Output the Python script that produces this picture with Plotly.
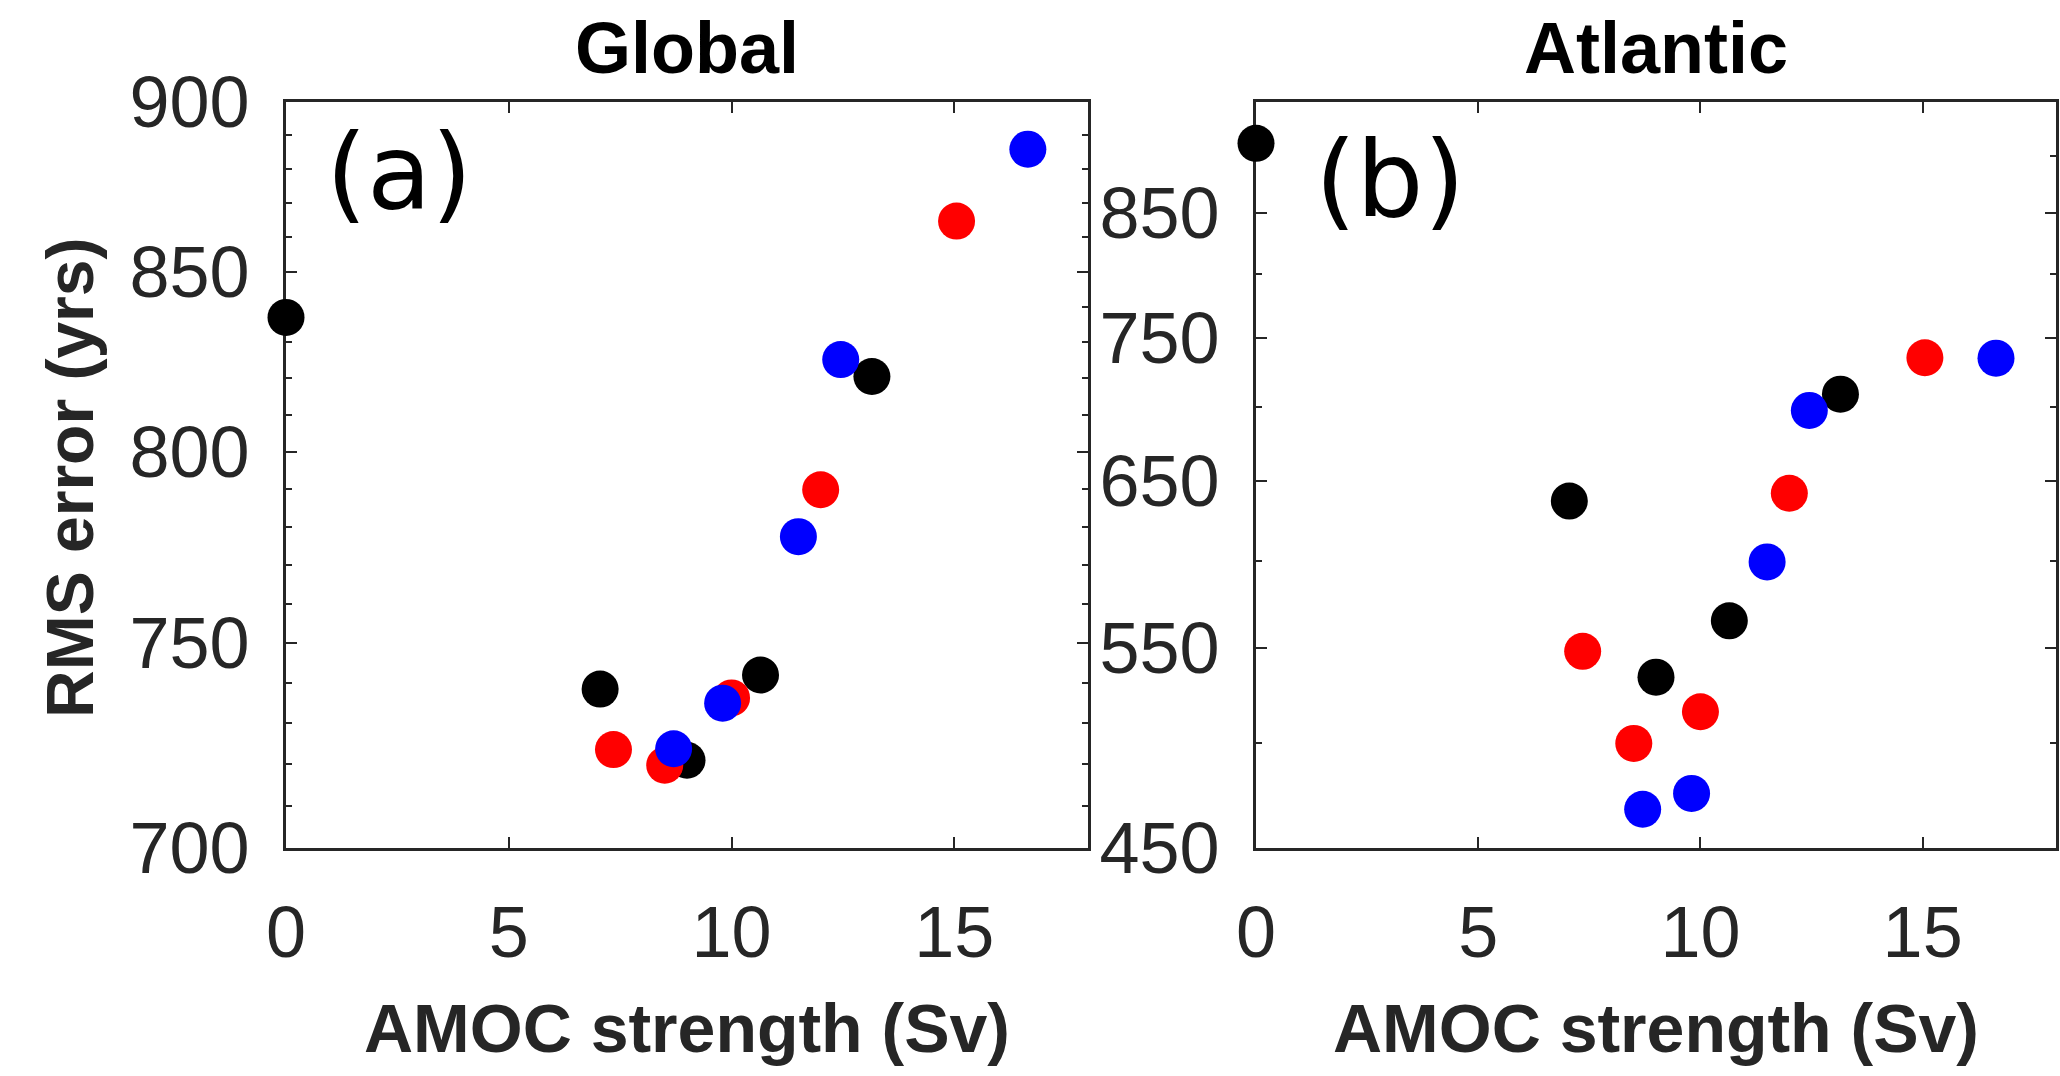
import plotly.graph_objects as go
import numpy as np

# ---- data ----
x_black = [0.0, 7.05, 9.0, 10.65, 13.15]
x_red = [7.35, 8.5, 10.0, 12.0, 15.05]
x_blue = [8.7, 9.8, 11.5, 12.45, 16.65]

glob_black = [837, 738.5, 721, 742, 820.5]
glob_red = [723.6, 719.8, 736.3, 789.8, 864.6]
glob_blue = [723.8, 735, 777.4, 825.2, 885.8]

atl_black = [911.5, 637, 534, 565, 709]
atl_red = [548, 499.7, 515.8, 642, 735.3]
atl_blue = [467.8, 475.3, 599.3, 697.5, 735]

x_ticks = [0, 5, 10, 15]
glob_ticks = [700, 750, 800, 850, 900]
glob_minor = [v for v in range(700, 901, 10) if v % 50 != 0]
atl_ticks = [450, 550, 650, 750, 850]
atl_minor = [500, 600, 700, 800, 900]

W, H = 2060, 1076
AX = "#262626"
FONT = "Liberation Sans, Arial, Helvetica, sans-serif"

fig = go.Figure()

series = [("black", x_black, glob_black, atl_black),
          ("#ff0000", x_red, glob_red, atl_red),
          ("#0000ff", x_blue, glob_blue, atl_blue)]
for col, xs, g, a in series:
    fig.add_trace(go.Scatter(x=xs, y=g, mode="markers", xaxis="x", yaxis="y",
                             marker=dict(color=col, size=37, line=dict(width=0)),
                             cliponaxis=False, showlegend=False))
    fig.add_trace(go.Scatter(x=xs, y=a, mode="markers", xaxis="x2", yaxis="y2",
                             marker=dict(color=col, size=37, line=dict(width=0)),
                             cliponaxis=False, showlegend=False))

def px_x(p):
    return p / W

def px_y(p):
    return 1 - p / H

left_a, right_a = 286, 1088
left_b, right_b = 1256, 2056
top, bot = 102, 848

xcommon = dict(range=[0, 18], tickmode="array", tickvals=x_ticks,
               ticks="inside", ticklen=11, tickwidth=2, tickcolor=AX,
               showline=True, linecolor=AX, linewidth=3, mirror="ticks",
               showgrid=False, zeroline=False, layer="below traces",
               automargin=False,
               tickfont=dict(family=FONT, size=72, color=AX),
               ticklabelstandoff=20)

ycommon = dict(type="log", tickmode="array",
               ticks="inside", ticklen=11, tickwidth=2, tickcolor=AX,
               showline=True, linecolor=AX, linewidth=3, mirror="ticks",
               showgrid=False, zeroline=False, layer="below traces",
               automargin=False,
               tickfont=dict(family=FONT, size=72, color=AX),
               ticklabelstandoff=19)

fig.update_layout(
    width=W, height=H,
    margin=dict(l=0, r=0, t=0, b=0),
    paper_bgcolor="white", plot_bgcolor="white",
    xaxis=dict(domain=[px_x(left_a), px_x(right_a)], anchor="y", **xcommon),
    xaxis2=dict(domain=[px_x(left_b), px_x(right_b)], anchor="y2", **xcommon),
    yaxis=dict(domain=[px_y(bot), px_y(top)], anchor="x",
               range=[np.log10(700), np.log10(900)], tickvals=glob_ticks,
               minor=dict(tickmode="array", tickvals=glob_minor, ticks="inside",
                          ticklen=6, tickwidth=2, tickcolor=AX),
               **ycommon),
    yaxis2=dict(domain=[px_y(bot), px_y(top)], anchor="x2",
                range=[np.log10(450), np.log10(950)], tickvals=atl_ticks,
                minor=dict(tickmode="array", tickvals=atl_minor, ticks="inside",
                           ticklen=6, tickwidth=2, tickcolor=AX),
                **ycommon),
)

ann = []
ann.append(dict(text="<b>Global</b>", x=px_x((left_a + right_a) / 2), y=px_y(48),
                xref="paper", yref="paper", showarrow=False, xanchor="center", yanchor="middle",
                font=dict(family=FONT, size=72, color="black")))
ann.append(dict(text="<b>Atlantic</b>", x=px_x((left_b + right_b) / 2), y=px_y(48),
                xref="paper", yref="paper", showarrow=False, xanchor="center", yanchor="middle",
                font=dict(family=FONT, size=72, color="black")))
for cx in [(left_a + right_a) / 2, (left_b + right_b) / 2]:
    ann.append(dict(text="<b>AMOC strength (Sv)</b>", x=px_x(cx), y=px_y(1028),
                    xref="paper", yref="paper", showarrow=False, xanchor="center", yanchor="middle",
                    font=dict(family=FONT, size=68, color=AX)))
ann.append(dict(text="<b>RMS error (yrs)</b>", x=px_x(70), y=px_y(478), textangle=-90,
                xref="paper", yref="paper", showarrow=False, xanchor="center", yanchor="middle",
                font=dict(family=FONT, size=66, color=AX)))
ann.append(dict(text="(a)", x=px_x(399), y=px_y(173),
                xref="paper", yref="paper", showarrow=False, xanchor="center", yanchor="middle",
                font=dict(family="DejaVu Sans, sans-serif", size=105, color="black")))
ann.append(dict(text="(b)", x=px_x(1390), y=px_y(180),
                xref="paper", yref="paper", showarrow=False, xanchor="center", yanchor="middle",
                font=dict(family="DejaVu Sans, sans-serif", size=106, color="black")))
fig.update_layout(annotations=ann)

fig.write_html("out.html")
